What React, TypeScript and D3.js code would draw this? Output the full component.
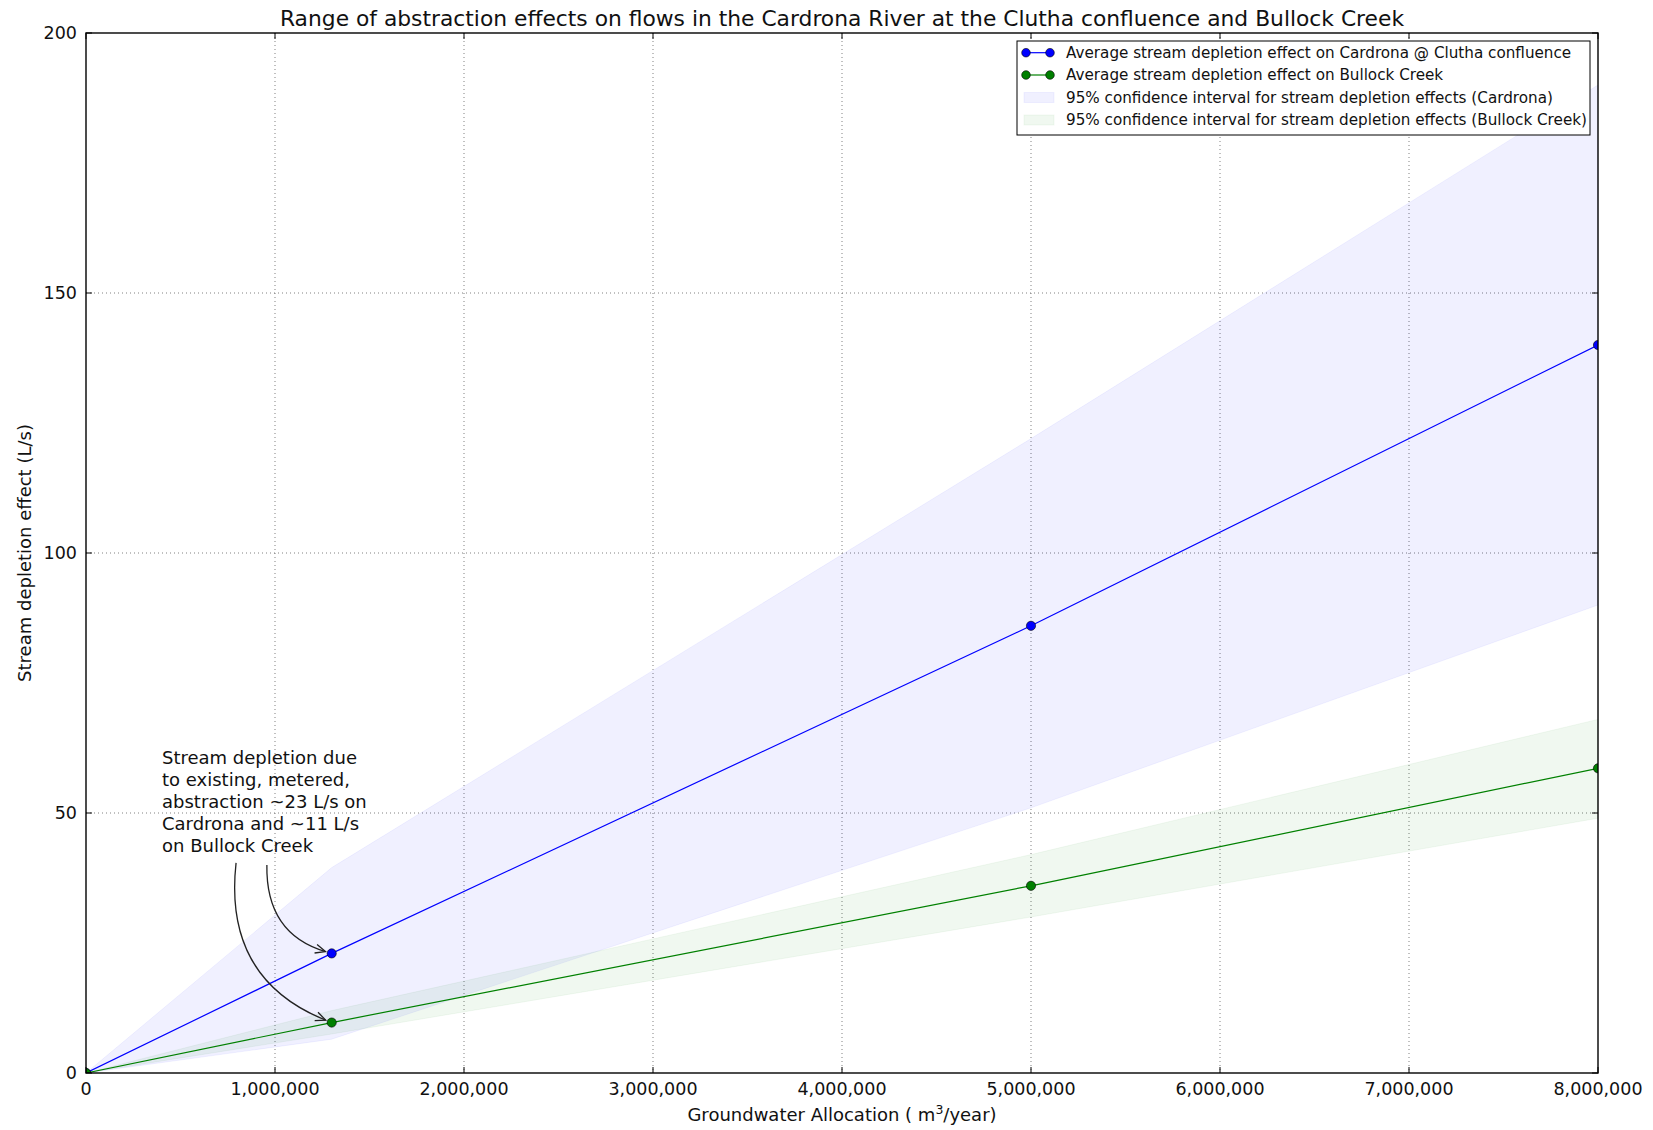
import React from "react";
import * as d3 from "d3";

const allocation = [0, 1300000, 5000000, 8000000];
const cardronaMean = [0, 23, 86, 140];
const cardronaUpper = [0, 39.5, 122, 190];
const cardronaLower = [0, 6.5, 51, 90];
const bullockMean = [0, 9.7, 36, 58.6];
const bullockUpper = [0, 12, 42, 68];
const bullockLower = [0, 7.5, 30, 49];

const xTicks = [0, 1000000, 2000000, 3000000, 4000000, 5000000, 6000000, 7000000, 8000000];
const yTicks = [0, 50, 100, 150, 200];

const titleText = "Range of abstraction effects on flows in the Cardrona River at the Clutha confluence and Bullock Creek";
const legendLabels = [
  "Average stream depletion effect on Cardrona @ Clutha confluence",
  "Average stream depletion effect on Bullock Creek",
  "95% confidence interval for stream depletion effects (Cardrona)",
  "95% confidence interval for stream depletion effects (Bullock Creek)",
];
const annotationLines = [
  "Stream depletion due",
  "to existing, metered,",
  "abstraction ~23 L/s on",
  "Cardrona and ~11 L/s",
  "on Bullock Creek",
];
// arrow tails (data coords) and targets
const arrowTails = [[957000, 40], [794000, 40.4]];
const arrowTargets = [[1300000, 23], [1300000, 9.7]];

const W = 1653, H = 1130;
const M = { left: 86, right: 1598, top: 33, bottom: 1073 };
const FONT = "DejaVu Sans, sans-serif";
const BLUE = "#0000ff";
const GREEN = "#008000";

export default function App() {
  const x = d3.scaleLinear().domain([0, 8000000]).range([M.left, M.right]);
  const y = d3.scaleLinear().domain([0, 200]).range([M.bottom, M.top]);
  const fmt = d3.format(",");

  const idx = allocation.map((_, i) => i);
  const area = (lo: number[], hi: number[]) =>
    d3.area<number>().x((i) => x(allocation[i])).y0((i) => y(lo[i])).y1((i) => y(hi[i]))(idx) || "";
  const line = (v: number[]) => d3.line<number>().x((i) => x(allocation[i])).y((i) => y(v[i]))(idx) || "";

  const arrows = arrowTails.map((t, k) => {
    const sx = x(t[0]), sy = y(t[1]);
    const px = x(arrowTargets[k][0]), py = y(arrowTargets[k][1]);
    const dx = px - sx, dy = py - sy;
    const rad = 0.38;
    const cx = (sx + px) / 2 - rad * dy;
    const cy = (sy + py) / 2 + rad * dx;
    const tx = px - cx, ty = py - cy;
    const tl = Math.hypot(tx, ty);
    const shrink = 6.5;
    const ex = px - (shrink * tx) / tl, ey = py - (shrink * ty) / tl;
    const ang = Math.atan2(ey - cy, ex - cx);
    const hl = 11, ha = 0.42;
    const h1 = [ex - hl * Math.cos(ang - ha), ey - hl * Math.sin(ang - ha)];
    const h2 = [ex - hl * Math.cos(ang + ha), ey - hl * Math.sin(ang + ha)];
    return { d: `M${sx},${sy} Q${cx},${cy} ${ex},${ey}`, head: `M${h1[0]},${h1[1]} L${ex},${ey} L${h2[0]},${h2[1]}` };
  });

  const legX = 1017, legY = 41, legW = 573, legH = 94;
  const rowY = [52.7, 75, 97.5, 120];

  return (
    <svg width={W} height={H} style={{ position: "absolute", left: 0, top: 0, display: "block", background: "#fff" }} fontFamily={FONT}>
      <defs>
        <clipPath id="plotClip">
          <rect x={M.left} y={M.top} width={M.right - M.left} height={M.bottom - M.top} />
        </clipPath>
      </defs>
      <rect x={0} y={0} width={W} height={H} fill="#fff" />

      {/* grid */}
      <g stroke="#000" strokeWidth={0.7} strokeDasharray="1,3" opacity={0.7}>
        {xTicks.slice(1, -1).map((t) => (
          <line key={"gx" + t} x1={x(t)} x2={x(t)} y1={M.top} y2={M.bottom} />
        ))}
        {yTicks.slice(1, -1).map((t) => (
          <line key={"gy" + t} x1={M.left} x2={M.right} y1={y(t)} y2={y(t)} />
        ))}
      </g>

      <g clipPath="url(#plotClip)">
        <path d={area(cardronaLower, cardronaUpper)} fill={BLUE} fillOpacity={0.06} stroke={BLUE} strokeOpacity={0.05} />
        <path d={area(bullockLower, bullockUpper)} fill={GREEN} fillOpacity={0.06} stroke={GREEN} strokeOpacity={0.05} />
        <path d={line(cardronaMean)} fill="none" stroke={BLUE} strokeWidth={1.2} />
        <path d={line(bullockMean)} fill="none" stroke={GREEN} strokeWidth={1.2} />
        {idx.map((i) => (
          <circle key={"cm" + i} cx={x(allocation[i])} cy={y(cardronaMean[i])} r={4.6} fill={BLUE} stroke="#000" strokeWidth={0.6} />
        ))}
        {idx.map((i) => (
          <circle key={"bm" + i} cx={x(allocation[i])} cy={y(bullockMean[i])} r={4.6} fill={GREEN} stroke="#000" strokeWidth={0.6} />
        ))}
      </g>

      {/* annotation */}
      <g fontSize={18} fill="#111">
        {annotationLines.map((l, i) => (
          <text key={"an" + i} x={162} y={763.5 + i * 22.2}>{l}</text>
        ))}
      </g>
      {arrows.map((a, i) => (
        <g key={"ar" + i} fill="none" stroke="#222" strokeWidth={1.3}>
          <path d={a.d} />
          <path d={a.head} />
        </g>
      ))}

      {/* spines */}
      <rect x={M.left} y={M.top} width={M.right - M.left} height={M.bottom - M.top} fill="none" stroke="#000" strokeWidth={1.4} />

      {/* ticks */}
      <g stroke="#000" strokeWidth={1}>
        {xTicks.map((t) => (
          <g key={"xt" + t}>
            <line x1={x(t)} x2={x(t)} y1={M.bottom} y2={M.bottom - 6} />
            <line x1={x(t)} x2={x(t)} y1={M.top} y2={M.top + 6} />
          </g>
        ))}
        {yTicks.map((t) => (
          <g key={"yt" + t}>
            <line x1={M.left} x2={M.left + 6} y1={y(t)} y2={y(t)} />
            <line x1={M.right} x2={M.right - 6} y1={y(t)} y2={y(t)} />
          </g>
        ))}
      </g>
      <g fontSize={17.5} fill="#111">
        {xTicks.map((t) => (
          <text key={"xl" + t} x={x(t)} y={1095} textAnchor="middle">{fmt(t)}</text>
        ))}
        {yTicks.map((t) => (
          <text key={"yl" + t} x={77} y={y(t) + 6.3} textAnchor="end">{t}</text>
        ))}
      </g>

      {/* axis labels */}
      <text x={(M.left + M.right) / 2} y={1121} textAnchor="middle" fontSize={18} fill="#111">
        Groundwater Allocation ( m<tspan fontSize={12.5} dy={-7}>3</tspan><tspan dy={7}>/year)</tspan>
      </text>
      <text transform={`translate(31,${(M.top + M.bottom) / 2}) rotate(-90)`} textAnchor="middle" fontSize={18} fill="#111">
        Stream depletion effect (L/s)
      </text>

      {/* title */}
      <text x={(M.left + M.right) / 2} y={26} textAnchor="middle" fontSize={21.8} fill="#111">{titleText}</text>

      {/* legend */}
      <rect x={legX} y={legY} width={legW} height={legH} fill="#fff" stroke="#000" strokeWidth={1} />
      <g fontSize={15.2} fill="#111">
        {[BLUE, GREEN].map((c, i) => (
          <g key={"lm" + i}>
            <line x1={1026} x2={1050} y1={rowY[i]} y2={rowY[i]} stroke={c} strokeWidth={1.2} />
            <circle cx={1026} cy={rowY[i]} r={4.3} fill={c} stroke="#000" strokeWidth={0.6} />
            <circle cx={1050} cy={rowY[i]} r={4.3} fill={c} stroke="#000" strokeWidth={0.6} />
          </g>
        ))}
        {[BLUE, GREEN].map((c, i) => (
          <rect key={"lp" + i} x={1024} y={rowY[i + 2] - 5} width={30} height={10} fill={c} fillOpacity={0.06} stroke={c} strokeOpacity={0.05} />
        ))}
        {legendLabels.map((l, i) => (
          <text key={"ll" + i} x={1066} y={rowY[i] + 5.3} >{l}</text>
        ))}
      </g>
    </svg>
  );
}
